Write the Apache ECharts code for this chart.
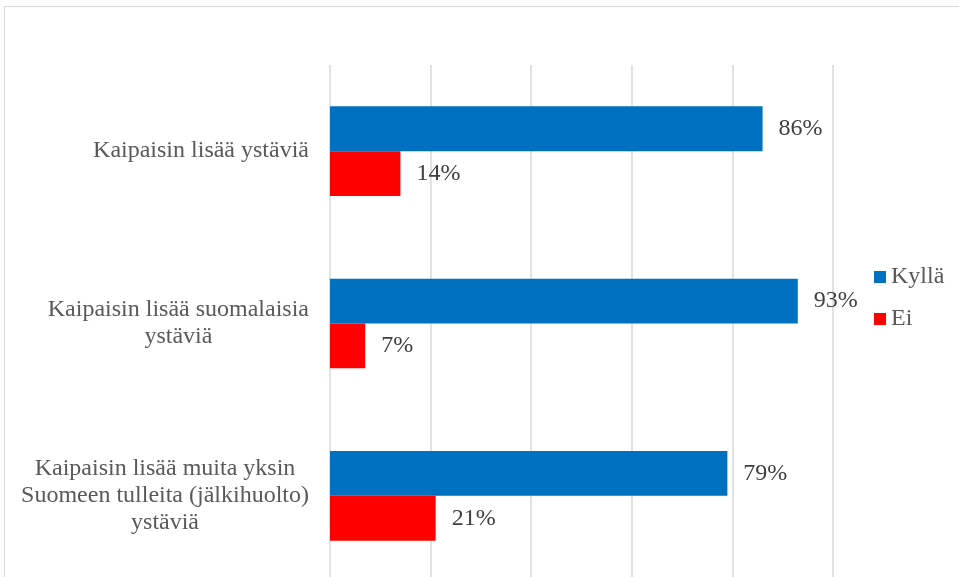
<!DOCTYPE html>
<html>
<head>
<meta charset="utf-8">
<script src="https://cdn.jsdelivr.net/npm/echarts@6/dist/echarts.min.js"></script>
<style>
html,body{margin:0;padding:0;background:#fff;overflow:hidden;}
#chart{width:959px;height:600px;}
</style>
</head>
<body>
<div id="chart"></div>
<script>
const categories = [
  "Kaipaisin lisää ystäviä",
  "Kaipaisin lisää suomalaisia\nystäviä",
  "Kaipaisin lisää muita yksin\nSuomeen tulleita (jälkihuolto)\nystäviä"
];
const seriesNames = ["Kyllä", "Ei"];
const kyllaValues = [86, 93, 79];
const eiValues = [14, 7, 21];

const FONT = "Liberation Serif";
const chart = echarts.init(document.getElementById('chart'));
chart.setOption({
  animation: false,
  backgroundColor: '#ffffff',
  textStyle: { fontFamily: FONT },
  graphic: [{
    type: 'rect',
    shape: { x: 4.5, y: 6.5, width: 1200, height: 1000 },
    style: { fill: 'none', stroke: '#d9d9d9', lineWidth: 1 },
    silent: true
  }],
  legend: {
    orient: 'vertical',
    left: 869,
    top: 260,
    itemWidth: 12,
    itemHeight: 12,
    itemGap: 18,
    icon: 'rect',
    data: seriesNames,
    textStyle: { fontFamily: FONT, fontSize: 24, color: '#595959' }
  },
  grid: { left: 330, right: 126, top: 65, bottom: 18, containLabel: false },
  xAxis: {
    type: 'value',
    min: 0, max: 100, interval: 20,
    axisLabel: { show: false },
    axisLine: { show: false },
    axisTick: { show: false },
    splitLine: { show: true, lineStyle: { color: '#d9d9d9', width: 1.5 } }
  },
  yAxis: {
    type: 'category',
    inverse: true,
    data: categories,
    axisLine: { show: false },
    axisTick: { show: false },
    axisLabel: {
      align: 'right',
      margin: 21,
      formatter: function (v) {
        return v.split('\n').map(function (l) { return '{c|' + l + '}'; }).join('\n');
      },
      rich: {
        c: { align: 'center', fontFamily: FONT, fontSize: 24, color: '#595959', lineHeight: 27 }
      }
    }
  },
  series: [
    {
      name: seriesNames[0], type: 'bar', data: kyllaValues,
      barGap: '0%', barCategoryGap: '48%',
      itemStyle: { color: '#0070C0' },
      label: { show: true, position: 'right', distance: 16, formatter: '{c}%', fontFamily: FONT, fontSize: 24, color: '#404040' }
    },
    {
      name: seriesNames[1], type: 'bar', data: eiValues,
      barGap: '0%', barCategoryGap: '48%',
      itemStyle: { color: '#FF0000' },
      label: { show: true, position: 'right', distance: 16, formatter: '{c}%', fontFamily: FONT, fontSize: 24, color: '#404040' }
    }
  ]
});
</script>
</body>
</html>
